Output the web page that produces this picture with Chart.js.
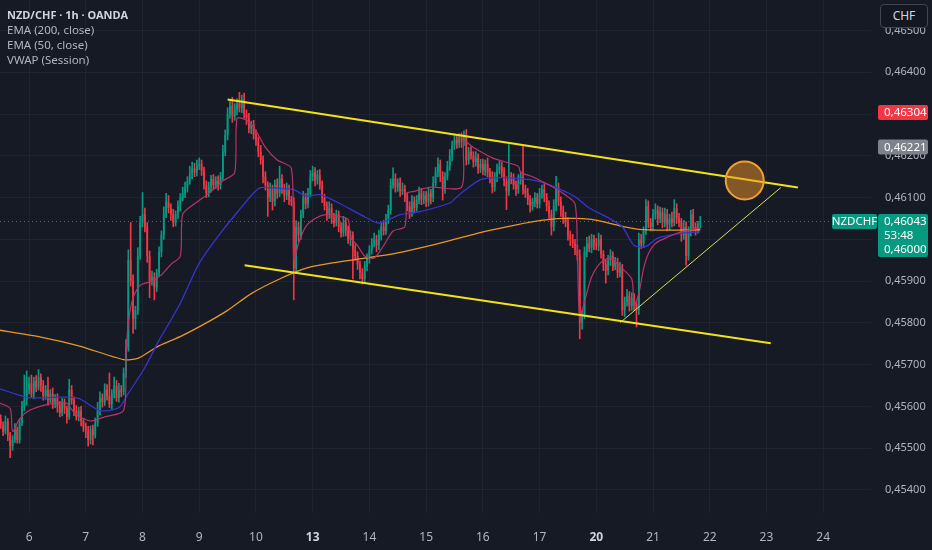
<!DOCTYPE html>
<html>
<head>
<meta charset="utf-8">
<title>NZD/CHF 1h</title>
<script src="https://cdn.jsdelivr.net/npm/chart.js@4.4.1/dist/chart.umd.min.js"></script>
<style>
    html, body { margin: 0; padding: 0; background: #161a25; }
    #wrap { position: relative; width: 932px; height: 550px; overflow: hidden; }
    #legend { position: absolute; left: 7px; top: 7px; font: 11.5px "Noto Sans", sans-serif; color: #b2b5be; line-height: 15px; }
    #legend b { color: #d1d4dc; font-size: 11px; }
    #cur { position: absolute; left: 880px; top: 4px; width: 46px; height: 22px; border: 1px solid #434651; border-radius: 4px;
           background: #131722; color: #d1d4dc; font: 12px "Noto Sans", sans-serif; line-height: 22px; text-align: center; }
</style>
</head>
<body>
<div id="wrap">
    <canvas id="chart" width="932" height="550"></canvas>
    <div id="legend">
        <b>NZD/CHF · 1h · OANDA</b><br>
        EMA (200, close)<br>
        EMA (50, close)<br>
        VWAP (Session)
    </div>
    <div id="cur">CHF</div>
</div>
<script>
/* ========================================================================
   NZD/CHF 1h candles — prices stored as 1e-5 steps above 0.45000
   ======================================================================== */

const firstIndex = -12;       // hour index of first candle (day 6 00:00 = 0)
const firstOpen = 570;

const closes = [
    555, 540, 565, 530, 505, 520, 545, 520, 560, 600, 615, 640,
    655, 630, 660, 645, 670, 650, 625, 640, 615, 630, 605, 620, 600, 585, 610, 595, 575, 640, 615, 590, 575, 590, 565, 550,
    540, 520, 545, 530, 560, 590, 620, 610, 640, 625, 605, 630, 650, 620, 640, 635, 680, 740, 950, 900, 810, 830, 960, 1040,
    1060, 1030, 960, 900, 910, 885, 920, 970, 1010, 1060, 1090, 1075, 1060, 1040, 1060, 1080, 1100, 1110, 1125, 1140, 1155, 1170, 1160, 1175,
    1180, 1165, 1130, 1110, 1125, 1145, 1130, 1140, 1130, 1150, 1210, 1250, 1300, 1320, 1295, 1310, 1325, 1315, 1335, 1300, 1290, 1265, 1275, 1250,
    1235, 1210, 1190, 1150, 1130, 1100, 1120, 1090, 1130, 1110, 1145, 1120, 1105, 1120, 1095, 1090, 930, 1030, 1010, 1060, 1100, 1085, 1110, 1150,
    1160, 1140, 1155, 1130, 1100, 1080, 1060, 1075, 1050, 1040, 1060, 1030, 1015, 1040, 1020, 1000, 1010, 975, 960, 940, 920, 905, 935, 955,
    975, 990, 1000, 985, 1010, 1030, 1020, 1050, 1070, 1130, 1145, 1125, 1135, 1115, 1120, 1100, 1080, 1065, 1090, 1075, 1095, 1110, 1095, 1105,
    1090, 1110, 1100, 1135, 1160, 1180, 1150, 1120, 1150, 1175, 1200, 1225, 1240, 1230, 1245, 1235, 1250, 1190, 1210, 1200, 1185, 1195, 1170, 1180,
    1165, 1180, 1160, 1150, 1125, 1150, 1165, 1175, 1160, 1140, 1115, 1150, 1145, 1130, 1120, 1140, 1150, 1120, 1110, 1095, 1080, 1090, 1100, 1085,
    1110, 1120, 1100, 1080, 1060, 1030, 1080, 1125, 1090, 1070, 1050, 1040, 1010, 1000, 990, 975, 960, 800, 820, 970, 990, 980, 1000, 990,
    985, 1000, 965, 940, 925, 950, 960, 935, 945, 920, 930, 830, 850, 865, 840, 860, 845, 830, 1000, 990, 1020, 1080, 1040, 1030,
    1060, 1070, 1050, 1065, 1040, 1060, 1035, 1050, 1040, 1075, 1050, 1040, 1010, 1030, 960, 1020, 1060, 1030, 1025, 1035, 1043
];

// wick lengths above / below the body
const wickHi = [
    10, 8, 12, 6, 8, 10, 14, 6, 10, 12, 60, 45,
    15, 20, 10, 14, 18, 8, 12, 10, 30, 10, 14, 8, 10, 12, 10, 8, 6, 25, 10, 8, 12, 8, 10, 6,
    10, 12, 8, 10, 12, 20, 15, 10, 14, 12, 55, 10, 20, 12, 15, 10, 12, 20, 25, 90, 15, 10, 20, 15,
    52, 15, 10, 12, 14, 10, 8, 12, 10, 18, 20, 15, 10, 12, 8, 12, 10, 15, 12, 10, 20, 15, 12, 15,
    15, 10, 8, 10, 12, 8, 10, 10, 12, 10, 15, 12, 15, 12, 20, 15, 12, 27, 10, 15, 10, 12, 8, 10,
    12, 10, 15, 10, 12, 8, 15, 10, 12, 15, 30, 10, 12, 15, 10, 8, 10, 15, 12, 10, 15, 10, 12, 15,
    15, 12, 10, 12, 10, 8, 10, 15, 10, 12, 10, 8, 10, 15, 10, 12, 10, 8, 12, 10, 8, 10, 12, 10,
    10, 12, 15, 10, 12, 10, 15, 10, 12, 15, 26, 12, 10, 12, 15, 10, 12, 10, 15, 12, 10, 15, 12, 10,
    10, 12, 10, 15, 12, 15, 10, 12, 10, 12, 15, 10, 12, 10, 8, 10, 10, 13, 10, 12, 10, 15, 10, 12,
    12, 10, 15, 10, 12, 10, 15, 12, 10, 12, 10, 77, 10, 12, 10, 15, 12, 77, 10, 12, 10, 8, 12, 10,
    12, 10, 15, 10, 12, 10, 15, 26, 10, 12, 10, 15, 12, 10, 12, 10, 12, 15, 10, 12, 15, 18, 12, 10,
    12, 15, 10, 8, 10, 12, 15, 10, 12, 10, 15, 10, 12, 15, 10, 12, 10, 8, 15, 12, 10, 15, 12, 10,
    12, 15, 10, 12, 10, 15, 12, 10, 15, 20, 10, 12, 10, 15, 12, 10, 10, 12, 10, 8, 12
];
const wickLo = [
    8, 10, 6, 12, 28, 10, 6, 8, 8, 6, 10, 12,
    10, 8, 12, 10, 6, 14, 10, 8, 12, 6, 10, 8, 14, 10, 8, 12, 15, 6, 10, 12, 8, 10, 12, 10,
    15, 15, 10, 22, 6, 8, 10, 12, 8, 10, 8, 12, 10, 8, 10, 12, 8, 10, 8, 12, 35, 25, 10, 8,
    10, 12, 15, 40, 10, 30, 10, 8, 12, 10, 8, 12, 15, 10, 8, 10, 12, 8, 10, 12, 8, 10, 10, 8,
    8, 12, 10, 10, 8, 12, 10, 8, 12, 10, 8, 10, 12, 10, 15, 10, 12, 10, 12, 10, 15, 10, 12, 10,
    10, 12, 10, 15, 12, 45, 10, 20, 10, 12, 8, 10, 15, 10, 12, 10, 75, 12, 15, 10, 8, 12, 10, 8,
    10, 12, 8, 10, 12, 10, 15, 10, 12, 10, 8, 12, 10, 8, 12, 10, 15, 70, 10, 12, 15, 12, 8, 10,
    12, 10, 8, 15, 10, 12, 10, 8, 12, 10, 8, 12, 10, 12, 8, 10, 12, 15, 10, 12, 8, 10, 12, 10,
    12, 10, 15, 10, 8, 10, 12, 26, 10, 8, 10, 12, 10, 12, 10, 15, 10, 12, 10, 8, 12, 10, 12, 10,
    10, 12, 10, 15, 14, 10, 12, 8, 10, 12, 44, 10, 12, 10, 15, 10, 8, 12, 10, 12, 15, 10, 12, 10,
    10, 12, 10, 12, 10, 20, 10, 12, 10, 15, 12, 10, 12, 15, 10, 12, 10, 38, 15, 10, 12, 10, 12, 15,
    10, 12, 10, 15, 30, 10, 12, 10, 8, 12, 10, 12, 15, 10, 12, 10, 15, 40, 10, 12, 10, 8, 12, 10,
    10, 12, 15, 10, 12, 10, 15, 12, 10, 8, 12, 10, 15, 10, 22, 10, 12, 10, 15, 10, 8
];

// indicator lines as [hour index, price step]
const ema200Pts = [[-13,783],[5,766],[21,745],[40,712],[46,715],[52,735],[55,745],[65,770],[75,800],[84,830],[94,870],
    [106,905],[118,932],[130,945],[142,955],[154,965],[166,980],[178,997],[190,1015],[202,1030],[214,1043],[226,1050],
    [238,1048],[248,1035],[258,1024],[270,1022],[284,1023]];
const ema50Pts = [[-13,643],[0,621],[13,622],[21,619],[30,590],[38,597],[42,631],[49,693],[55,758],[64,847],[72,943],
    [81,1015],[89,1071],[95,1111],[98,1124],[106,1122],[112,1119],[117,1104],[123,1107],[131,1087],[142,1054],[148,1039],
    [157,1059],[165,1066],[178,1087],[182,1107],[191,1143],[199,1148],[212,1143],[218,1135],[225,1119],[231,1102],
    [237,1075],[244,1055],[251,1030],[256,985],[261,983],[266,1003],[277,1015],[284,1018]];
const vwapPts = [[-13,609],[-8,595],[-7,540],[-4,570],[0,590],[8,605],[16,608],[17,600],[20,580],[26,565],[32,575],[40,590],
    [41,720],[42,800],[44,860],[47,890],[52,900],[56,915],[60,940],[64,960],[65,1060],[70,1085],[76,1110],[82,1140],[87,1160],
    [88,1290],[92,1285],[96,1260],[100,1220],[105,1190],[111,1170],[112,950],[114,990],[117,1030],[121,1050],[126,1060],
    [131,1055],[135,1048],[136,1005],[139,985],[142,960],[146,955],[150,985],[154,1020],[159,1030],[160,1110],[163,1115],
    [170,1125],[183,1125],[184,1235],[188,1220],[196,1195],[207,1175],[208,1160],[213,1150],[220,1130],[226,1110],[231,1085],
    [232,960],[233,810],[235,850],[238,910],[242,945],[246,955],[250,935],[255,905],[256,840],[258,870],[260,930],[262,965],
    [265,990],[270,1005],[277,1020],[284,1027]];

// drawings
const channelTop = [[84, 1335], [325.3, 1124]];
const channelBottom = [[91.2, 938], [313.8, 751]];
const wedgeLine = [[250.2, 801], [318.1, 1124]];
const circleAt = [302.8, 1141];

const dayLabels = ['6', '7', '8', '9', '10', '13', '14', '15', '16', '17', '20', '21', '22', '23', '24'];
const boldDays = ['13', '20'];
const yTicks = [0.454, 0.455, 0.456, 0.457, 0.458, 0.459, 0.460, 0.461, 0.462, 0.463, 0.464, 0.465];

const UP = '#089981', DOWN = '#f23645';
const P = p => 0.45 + p / 100000;
const fmt = v => v.toFixed(5).replace('.', ',');

const candles = closes.map((c, k) => {
    const o = k ? closes[k - 1] : firstOpen;
    return { x: firstIndex + k, o, c, hi: Math.max(o, c) + (wickHi[k] || 0), lo: Math.min(o, c) - (wickLo[k] || 0) };
});
const candleColors = candles.map(d => d.c >= d.o ? UP : DOWN);
const toPts = arr => arr.map(([x, p]) => ({ x, y: P(p) }));

const lineDs = (pts, color, width, order) => ({
    type: 'line', data: toPts(pts), borderColor: color, borderWidth: width,
    pointRadius: 0, pointBorderWidth: 0, tension: 0.25, order
});

const overlayPlugin = {
    id: 'overlay',
    beforeDraw(chart) {
        const ctx = chart.ctx;
        ctx.save();
        ctx.fillStyle = '#161a25';
        ctx.fillRect(0, 0, chart.width, chart.height);
        ctx.restore();
    },
    beforeDatasetsDraw(chart) {
        const { ctx, chartArea, scales: { y } } = chart;
        const py = Math.round(y.getPixelForValue(P(closes[closes.length - 1]))) + 0.5;
        ctx.save();
        ctx.strokeStyle = '#5d606b';
        ctx.setLineDash([1, 3]);
        ctx.beginPath();
        ctx.moveTo(chartArea.left, py);
        ctx.lineTo(chartArea.right, py);
        ctx.stroke();
        ctx.restore();
    },
    afterDatasetsDraw(chart) {
        // target circle drawn here so its radius does not pad the layout
        const { ctx, scales: { x, y } } = chart;
        ctx.save();
        ctx.beginPath();
        ctx.arc(x.getPixelForValue(circleAt[0]), y.getPixelForValue(P(circleAt[1])), 19, 0, Math.PI * 2);
        ctx.fillStyle = 'rgba(240,150,40,0.5)';
        ctx.fill();
        ctx.lineWidth = 2;
        ctx.strokeStyle = '#f0a030';
        ctx.stroke();
        ctx.restore();
    },
    afterDraw(chart) {
        const { ctx, scales: { y } } = chart;
        const tag = (x, top, w, h, bg, lines, align) => {
            ctx.fillStyle = bg;
            ctx.beginPath();
            ctx.roundRect(x, top, w, h, 2);
            ctx.fill();
            ctx.fillStyle = '#ffffff';
            ctx.font = '11.5px "Noto Sans", sans-serif';
            ctx.textBaseline = 'middle';
            ctx.textAlign = align || 'left';
            lines.forEach((t, k) => ctx.fillText(t, align === 'center' ? x + w / 2 : x + 6, top + 8 + k * 14));
        };
        ctx.save();
        const last = P(closes[closes.length - 1]);
        tag(878, y.getPixelForValue(0.46304) - 7.5, 50, 15, '#f23645', [fmt(0.46304)]);
        tag(878, y.getPixelForValue(0.46221) - 7.5, 50, 15, '#7f828c', [fmt(0.46221)]);
        const ly = y.getPixelForValue(last) - 7.5;
        tag(832, ly, 45, 15, UP, ['NZDCHF'], 'center');
        tag(878, ly, 50, 43, UP, [fmt(last), '53:48', fmt(0.46)]);
        ctx.restore();
    }
};

new Chart(document.getElementById('chart'), {
    data: {
        datasets: [
            {
                type: 'bar', order: 6, grouped: false,
                data: candles.map(d => ({ x: d.x, y: [P(d.lo), P(d.hi)] })),
                backgroundColor: candleColors, barThickness: 1
            },
            {
                type: 'bar', order: 5, grouped: false, minBarLength: 1,
                data: candles.map(d => ({ x: d.x, y: [P(d.o), P(d.c)] })),
                backgroundColor: candleColors, barPercentage: 0.75, categoryPercentage: 1
            },
            lineDs(ema200Pts, '#e8962a', 1.3, 4),
            lineDs(ema50Pts, '#3535d0', 1.3, 3),
            lineDs(vwapPts, '#b8336a', 1.2, 2),
            { ...lineDs(channelTop, '#f2e318', 2, 1), tension: 0 },
            { ...lineDs(channelBottom, '#f2e318', 2, 1), tension: 0 },
            { ...lineDs(wedgeLine, '#d8dc5a', 1, 1), tension: 0 }
        ]
    },
    options: {
        responsive: false, animation: false, events: [],
        layout: { padding: 0 },
        plugins: { legend: { display: false }, tooltip: { enabled: false } },
        scales: {
            x: {
                type: 'linear', min: -12.3, max: 356.23, offset: false,
                afterBuildTicks: s => { s.ticks = dayLabels.map((d, k) => ({ value: k * 24 })); },
                afterFit: s => { s.height = 37; s.paddingLeft = 0; s.paddingRight = 0; },
                grid: { color: 'rgba(42,46,57,0.45)', drawTicks: false, offset: false },
                border: { display: false },
                ticks: {
                    padding: 17, maxRotation: 0, autoSkip: false,
                    callback: (v, k) => dayLabels[k],
                    color: c => boldDays.includes(dayLabels[c.index]) ? '#d1d4dc' : '#b2b5be',
                    font: c => ({ family: 'Noto Sans', size: 12, weight: boldDays.includes(dayLabels[c.index]) ? 'bold' : 'normal' })
                }
            },
            y: {
                type: 'linear', position: 'right', min: 0.453447, max: 0.465731,
                afterBuildTicks: s => { s.ticks = yTicks.map(v => ({ value: v })); },
                afterFit: s => { s.width = 61; s.paddingTop = 0; s.paddingBottom = 0; },
                grid: { color: 'rgba(42,46,57,0.45)', drawTicks: false },
                border: { display: false },
                ticks: {
                    padding: 14, crossAlign: 'near', color: '#b2b5be',
                    font: { family: 'Noto Sans', size: 11 },
                    callback: v => fmt(v)
                }
            }
        }
    },
    plugins: [overlayPlugin]
});
</script>
</body>
</html>
